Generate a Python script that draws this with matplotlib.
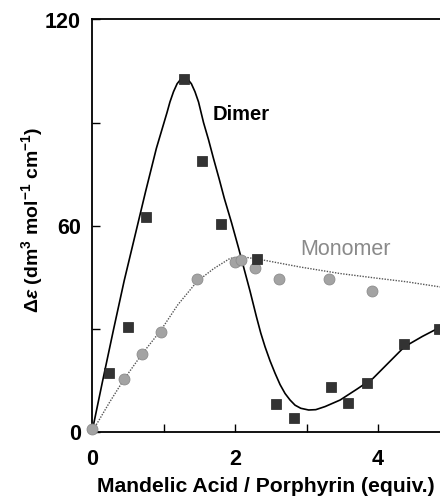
import matplotlib
matplotlib.use("Agg")
import matplotlib.pyplot as plt
from matplotlib.ticker import MultipleLocator

plt.rcParams['font.family'] = ['Liberation Sans', 'DejaVu Sans']
plt.rcParams['mathtext.fontset'] = 'custom'
plt.rcParams['mathtext.rm'] = 'Liberation Sans:bold'
plt.rcParams['mathtext.it'] = 'Liberation Sans:italic:bold'
plt.rcParams['mathtext.bf'] = 'Liberation Sans:bold'

# Dimer data (squares)
dimer_x = [0.24, 0.50, 0.76, 1.29, 1.54, 1.80, 2.31, 2.57, 2.82, 3.34, 3.58, 3.85, 4.36, 4.85]
dimer_y = [17.3, 30.6, 62.4, 102.8, 78.9, 60.6, 50.2, 8.1, 4.2, 13.0, 8.4, 14.2, 25.6, 30.0]

# Monomer data (circles)
mono_x = [0.0, 0.45, 0.70, 0.96, 1.47, 2.00, 2.09, 2.28, 2.61, 3.31, 3.91]
mono_y = [1.0, 15.4, 22.7, 29.0, 44.5, 49.5, 50.0, 47.6, 44.4, 44.4, 41.0]

# Fitted curves
dimer_fit_x = [0.0, 0.15, 0.30, 0.45, 0.60, 0.75, 0.90, 1.00, 1.05, 1.09, 1.14, 1.19, 1.24,
               1.29, 1.34, 1.39, 1.44, 1.49, 1.56, 1.63, 1.70, 1.78, 1.85, 1.95, 2.05,
               2.12, 2.21, 2.30, 2.36, 2.42, 2.49, 2.56, 2.63, 2.70, 2.77, 2.84, 2.92,
               3.03, 3.13, 3.26, 3.47, 3.70, 3.93, 4.15, 4.37, 4.62, 4.87]
dimer_fit_y = [0.0, 15.0, 29.7, 44.0, 57.0, 70.0, 82.5, 89.5, 93.0, 96.0, 99.0, 101.3, 102.6,
               103.0, 102.6, 101.3, 99.0, 96.0, 90.0, 85.0, 79.5, 73.5, 68.0, 61.0, 53.5,
               48.0, 41.0, 33.5, 28.8, 24.8, 20.7, 17.1, 13.8, 11.2, 9.3, 7.8, 6.9,
               6.4, 6.5, 7.4, 9.3, 12.4, 15.6, 20.2, 24.8, 27.8, 30.5]

mono_fit_x = [0.0, 0.25, 0.45, 0.70, 0.96, 1.20, 1.47, 1.70, 1.93, 2.10, 2.40, 2.91, 3.47,
              4.00, 4.40, 4.87]
mono_fit_y = [0.0, 8.8, 15.4, 22.7, 29.5, 37.0, 43.8, 47.5, 50.5, 51.0, 50.0, 48.0, 46.1,
              44.7, 43.7, 42.2]

x_major = [0, 2, 4]
y_major = [0, 60, 120]

W, H = 440, 498
fig = plt.figure(figsize=(W / 100, H / 100), dpi=100)
left, right, bottom, top = 92, 440, 432, 19.5
ax = fig.add_axes([left / W, 1 - bottom / H, (right - left) / W, (bottom - top) / H])

ax.plot(dimer_fit_x, dimer_fit_y, color='black', lw=1.2, zorder=2)
ax.plot(mono_fit_x, mono_fit_y, color='#555555', lw=1.0, linestyle=(0, (1, 1)), zorder=2)

ax.scatter(mono_x, mono_y, marker='o', s=62, color='#a3a3a3', edgecolors='#8c8c8c',
           linewidths=0.6, zorder=3, clip_on=False)
ax.scatter(dimer_x, dimer_y, marker='s', s=58, color='#333333', edgecolors='#222222',
           linewidths=0.5, zorder=4, clip_on=False)

ax.text(1.69, 92.4, 'Dimer', fontsize=14.5, fontweight='bold', va='center', ha='left')
ax.text(2.91, 53.0, 'Monomer', fontsize=15.5, color='#8a8a8a', va='center', ha='left')

ax.set_xlim(0, 4.867)
ax.set_ylim(0, 120)
ax.set_xticks(x_major)
ax.set_yticks(y_major)
ax.xaxis.set_minor_locator(MultipleLocator(1))
ax.yaxis.set_minor_locator(MultipleLocator(30))
ax.tick_params(which='both', direction='in', length=5.5, width=1.0)
ax.tick_params(axis='x', which='major', pad=12.5, labelsize=15.5)
ax.tick_params(axis='y', which='major', pad=8, labelsize=15.5)
for lab in ax.get_xticklabels() + ax.get_yticklabels():
    lab.set_fontweight('bold')

ax.spines['right'].set_visible(False)
for s in ['left', 'bottom', 'top']:
    ax.spines[s].set_linewidth(1.3)

fig.text(266 / W, 1 - 486.7 / H, 'Mandelic Acid / Porphyrin (equiv.)', fontsize=15.2,
         fontweight='bold', ha='center', va='center')
fig.text(32 / W, 1 - 220 / H, r'$\mathit{Δε}$ (dm$^{3}$ mol$^{-1}$ cm$^{-1}$)', fontsize=14,
         fontweight='bold', ha='center', va='center', rotation=90)

fig.savefig('out.png', dpi=100)
